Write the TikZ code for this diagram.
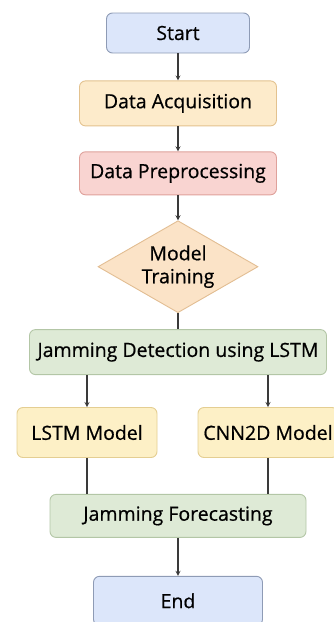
\documentclass[tikz,border=0pt]{standalone}
\usepackage{fontspec}
\setmainfont{Open Sans}[FakeBold=0.6]
\usetikzlibrary{arrows,positioning,shapes.geometric}

\definecolor{startfill}{HTML}{DCE6FA}
\definecolor{startline}{HTML}{8E9BB5}
\definecolor{acqfill}{HTML}{FDEBCB}
\definecolor{acqline}{HTML}{E3C28F}
\definecolor{prepfill}{HTML}{F9D4D1}
\definecolor{prepline}{HTML}{DFA19B}
\definecolor{trainfill}{HTML}{FBE3C7}
\definecolor{trainline}{HTML}{E2BD92}
\definecolor{jamfill}{HTML}{DEEAD6}
\definecolor{jamline}{HTML}{B3C6A6}
\definecolor{modelfill}{HTML}{FDF0C6}
\definecolor{modelline}{HTML}{E4CE92}
\definecolor{flow}{HTML}{3A3A3A}

\begin{document}
\begin{tikzpicture}[x=1pt,y=1pt]
				\tikzset{block/.style={draw,rounded corners=6pt,align=center,inner sep=0pt,line width=0.9pt,
					font=\fontsize{19.5}{23}\selectfont},
					terminal/.style={block,fill=startfill,draw=startline},
					green/.style={block,fill=jamfill,draw=jamline},
					model/.style={block,fill=modelfill,draw=modelline,minimum width=140pt,minimum height=50pt},
					link/.style={draw=flow,line width=1.2pt},
					>=stealth}
				\useasboundingbox (0,0) rectangle (334,-622);
				\node [terminal, minimum width=143pt, minimum height=40pt] (start) at (178,-33) {Start};
				\node [block, fill=acqfill, draw=acqline, minimum width=197pt, minimum height=45pt, below =27pt of start] (acq) {Data Acquisition};
				\node [block, fill=prepfill, draw=prepline, minimum width=197pt, minimum height=43pt, below =25pt of acq] (prep) {Data Preprocessing};
				\node [block, diamond, rounded corners=0pt, fill=trainfill, draw=trainline, minimum width=160pt, minimum height=92pt, aspect=1.74, below =25pt of prep] (train) {Model\\Training};
				\node [green, minimum width=297pt, minimum height=45pt, below =16pt of train] (detect) {Jamming Detection using LSTM};
				\node [model, below =32pt of detect, xshift=-91pt] (lstm) {LSTM Model};
				\node [model, below =32pt of detect, xshift=90pt] (cnn) {CNN2D Model};
				\node [green, minimum width=256pt, minimum height=43pt, below =36pt of detect.south |- lstm.south] (forecast) {Jamming Forecasting};
				\node [terminal, minimum width=169pt, minimum height=49pt, below =38pt of forecast] (end) {End};
				\draw[link,->] (start) -- (acq);
				\draw[link,->] (acq) -- (prep);
				\draw[link,->] (prep) -- (train);
				\draw[link] (train) -- (detect);
				\draw[link,->] (detect.south -| lstm.north) -- (lstm.north);
				\draw[link,->] (detect.south -| cnn.north) -- (cnn.north);
				\draw[link] (lstm.south) -- (lstm.south |- forecast.north);
				\draw[link] (cnn.south) -- (cnn.south |- forecast.north);
				\draw[link,->] (forecast) -- (end);
			\end{tikzpicture}
\end{document}
